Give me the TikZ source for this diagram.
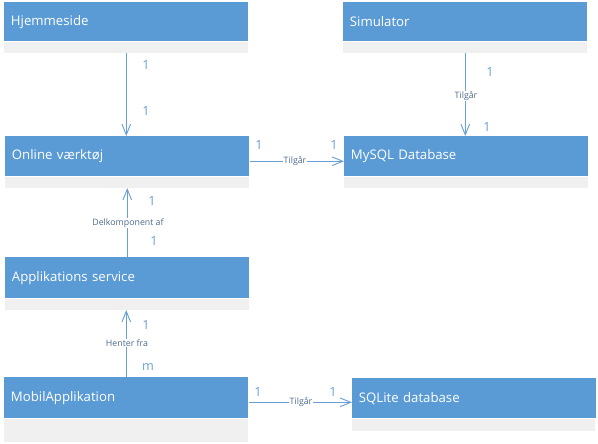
\documentclass[tikz,border=0pt]{standalone}
\usepackage{fontspec}
\setmainfont{Open Sans}
\usetikzlibrary{arrows.meta}
\definecolor{boxblue}{HTML}{5B9BD5}
\definecolor{stripgray}{HTML}{F0F0F0}
\definecolor{linkblue}{HTML}{6A9FD6}
\definecolor{lbltext}{HTML}{4F6B8F}
\tikzset{
  blk/.style={rectangle, fill=boxblue, draw=none, anchor=north west, inner xsep=5pt, inner ysep=0pt,
    minimum width=183pt, minimum height=30pt, text width=173pt, align=left, text=white,
    font=\fontsize{9.9pt}{11pt}\selectfont},
  strip/.style={rectangle, fill=stripgray, draw=none, anchor=north west, inner sep=0pt,
    minimum width=183pt, minimum height=8.25pt},
  conn/.style={draw=linkblue, line width=0.7pt, -{Straight Barb[length=8pt,width=6.5pt,line width=0.7pt]}},
  mult/.style={text=linkblue, inner sep=1pt, font=\fontsize{9.5pt}{10pt}\selectfont},
  rel/.style={text=lbltext, fill=white, inner sep=0.5pt, font=\fontsize{6.6pt}{7pt}\selectfont}
}
\begin{document}
\begin{tikzpicture}[x=0.75pt,y=-0.75pt]
\useasboundingbox (0,0) rectangle (598,443);
% classes
\node[blk, minimum height=29.25pt] (hjem) at (4,2) {Hjemmeside};
\node[strip] (hjemg) at (hjem.south west) {};
\node[blk, minimum height=29.25pt] (sim) at (343,2) {Simulator};
\node[strip] (simg) at (sim.south west) {};
\node[blk] (online) at (5,136) {Online værktøj};
\node[strip] (onlineg) at (online.south west) {};
\node[blk] (mysql) at (344,136) {MySQL Database};
\node[strip] (mysqlg) at (mysql.south west) {};
\node[blk, minimum height=30.75pt] (appserv) at (5,257) {Applikations service};
\node[strip] (appservg) at (appserv.south west) {};
\node[blk, minimum height=30.75pt] (mobil) at (4,377) {MobilApplikation};
\node[strip, minimum height=17.25pt] (mobilg) at (mobil.south west) {};
\node[blk, minimum width=182.25pt] (sqlite) at (352,378) {SQLite database};
\node[strip, minimum width=182.25pt, minimum height=9pt] (sqliteg) at (sqlite.south west) {};
% connectors
\draw[conn] (hjemg.south) -- (hjemg.south |- online.north);
\draw[conn] (simg.south) -- (simg.south |- mysql.north);
\draw[conn] ([yshift=-3.75pt]online.east) -- ([yshift=-3.75pt]online.east -| mysql.west);
\draw[conn] (appserv.north) -- (appserv.north |- onlineg.south);
\draw[conn] (mobil.north) -- (mobil.north |- appservg.south);
\draw[conn] ([yshift=-3.4pt]mobil.east) -- ([yshift=-3.4pt]mobil.east -| sqlite.west);
% relation labels
\node[rel] (r1) at (295,161) {Tilgår};
\node[rel] (r2) at (466,96) {Tilgår};
\node[rel] (r3) at (128,223) {Delkomponent af};
\node[rel] (r4) at (127,343) {Henter fra};
\node[rel] (r5) at (301,402) {Tilgår};
% multiplicities
\node[mult] (m1) at (146,65) {1};
\node[mult] (m2) at (146,111) {1};
\node[mult] (m3) at (259,145) {1};
\node[mult] (m4) at (334,145) {1};
\node[mult] (m5) at (490,72) {1};
\node[mult] (m6) at (487,127) {1};
\node[mult] (m7) at (152,201) {1};
\node[mult] (m8) at (154,241) {1};
\node[mult] (m9) at (146,325) {1};
\node[mult] (m10) at (148,367) {m};
\node[mult] (m11) at (258,392) {1};
\node[mult] (m12) at (333,392) {1};
\end{tikzpicture}
\end{document}
